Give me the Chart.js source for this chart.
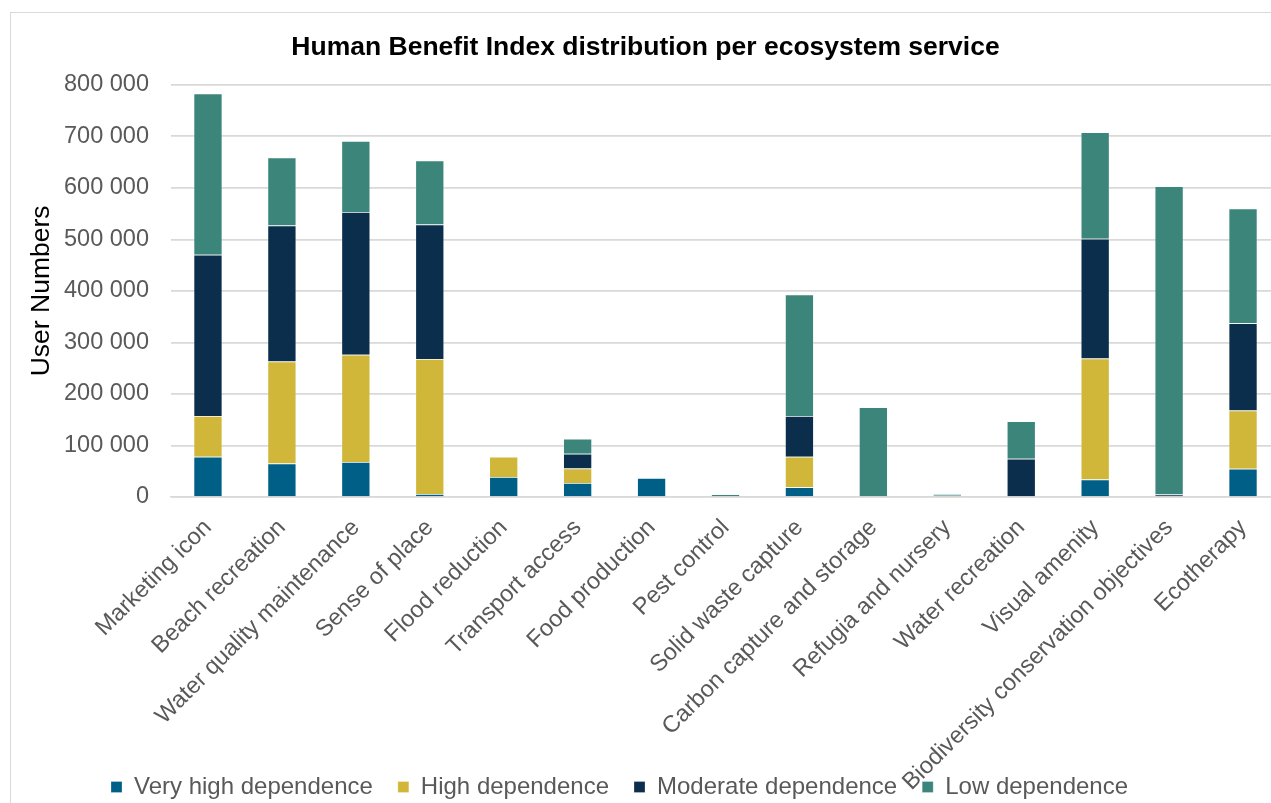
<!DOCTYPE html>
<html>
<head>
<meta charset="utf-8">
<script src="https://cdn.jsdelivr.net/npm/chart.js@4/dist/chart.umd.min.js"></script>
<style>
  html, body { margin: 0; padding: 0; background: #ffffff; overflow: hidden; }
  #frame {
    position: absolute; left: 10px; top: 12px;
    width: 1290px; height: 800px;
    border: 1px solid #d9d9d9; box-sizing: border-box; background: #fff;
  }
  #chart { position: absolute; left: 0; top: 0; }
</style>
</head>
<body>
<div id="frame"><canvas id="chart" width="1269" height="870"></canvas></div>
<script>
// Ecosystem services (categories)
const services = [
  'Marketing icon', 'Beach recreation', 'Water quality maintenance', 'Sense of place',
  'Flood reduction', 'Transport access', 'Food production', 'Pest control',
  'Solid waste capture', 'Carbon capture and storage', 'Refugia and nursery',
  'Water recreation', 'Visual amenity', 'Biodiversity conservation objectives', 'Ecotherapy'
];

// User numbers per dependence level
const veryHigh = [78000, 65000, 68000, 6000, 39000, 27000, 37000, 0, 19000, 0, 0, 0, 34000, 0, 55000];
const high     = [79000, 198000, 208000, 262000, 39000, 28500, 0, 0, 59000, 0, 2500, 0, 235000, 1500, 113000];
const moderate = [313000, 264000, 277000, 261000, 0, 28500, 0, 0, 79000, 0, 0, 74000, 232000, 3500, 169000];
const low      = [313000, 132000, 138000, 124000, 0, 29000, 0, 5500, 236000, 174000, 3500, 73000, 207000, 598000, 223000];

// Y axis ticks
const yTicks = [0, 100000, 200000, 300000, 400000, 500000, 600000, 700000, 800000];

const seriesNames = ['Very high dependence', 'High dependence', 'Moderate dependence', 'Low dependence'];
const seriesColors = ['#005f87', '#d0b73a', '#0b2e4c', '#3c857b'];
const seriesValues = [veryHigh, high, moderate, low];

const fontFamily = '"Liberation Sans", Arial, Helvetica, sans-serif';
const grey = '#595959';

const fmt = v => String(v).replace(/\B(?=(\d{3})+(?!\d))/g, ' ');

// Plot-area bottom and legend row placement (canvas pixels)
const PLOT_BOTTOM = 484;
const LEGEND_TOP = 737;
const LEGEND_DX = -26;

// Lets the long category labels run down into the legend row
const legendPlacement = {
  id: 'legendPlacement',
  afterLayout(chart) {
    const lg = chart.legend;
    if (!lg) return;
    const h = lg.bottom - lg.top;
    lg.top = LEGEND_TOP;
    lg.bottom = LEGEND_TOP + h;
    lg.left += LEGEND_DX;
    lg.right += LEGEND_DX;
  }
};

new Chart(document.getElementById('chart'), {
  type: 'bar',
  data: {
    labels: services,
    datasets: seriesValues.map((vals, i) => ({
      label: seriesNames[i],
      data: vals,
      backgroundColor: seriesColors[i],
      borderColor: 'rgba(255,255,255,0.35)',
      borderWidth: 0.75,
      barPercentage: 0.39,
      categoryPercentage: 1.0
    }))
  },
  plugins: [legendPlacement],
  options: {
    responsive: false,
    animation: false,
    layout: { padding: { top: 9, left: 0, right: 0, bottom: 0 } },
    plugins: {
      title: {
        display: true,
        text: 'Human Benefit Index distribution per ecosystem service',
        color: '#000000',
        font: { family: fontFamily, size: 26.5, weight: 'bold' },
        padding: { top: 10, bottom: 21 }
      },
      legend: {
        position: 'bottom',
        labels: {
          color: grey,
          font: { family: fontFamily, size: 24 },
          boxWidth: 11,
          boxHeight: 11,
          padding: 25
        }
      },
      tooltip: { enabled: false }
    },
    scales: {
      x: {
        stacked: true,
        grid: { display: false, drawTicks: false },
        border: { display: true, color: '#d9d9d9', width: 1.5 },
        ticks: {
          color: grey,
          font: { family: fontFamily, size: 23.5 },
          minRotation: 45,
          maxRotation: 45,
          autoSkip: false,
          padding: 17,
          labelOffset: 0
        },
        afterFit: axis => {
          const lg = axis.chart.legend;
          const lh = lg ? lg.height : 0;
          axis.height = axis.chart.height - lh - PLOT_BOTTOM;
        }
      },
      y: {
        stacked: true,
        min: 0,
        max: 800000,
        afterBuildTicks: axis => { axis.ticks = yTicks.map(v => ({ value: v })); },
        grid: { color: '#d9d9d9', lineWidth: 1.75, drawTicks: false },
        border: { display: false },
        ticks: {
          color: grey,
          font: { family: fontFamily, size: 23.5 },
          padding: 22,
          callback: v => fmt(v)
        },
        title: {
          display: true,
          text: 'User Numbers',
          color: '#000000',
          font: { family: fontFamily, size: 26.5 },
          padding: { top: 15, bottom: 0 }
        },
        afterFit: axis => { axis.width = 160; }
      }
    }
  }
});
</script>
</body>
</html>
